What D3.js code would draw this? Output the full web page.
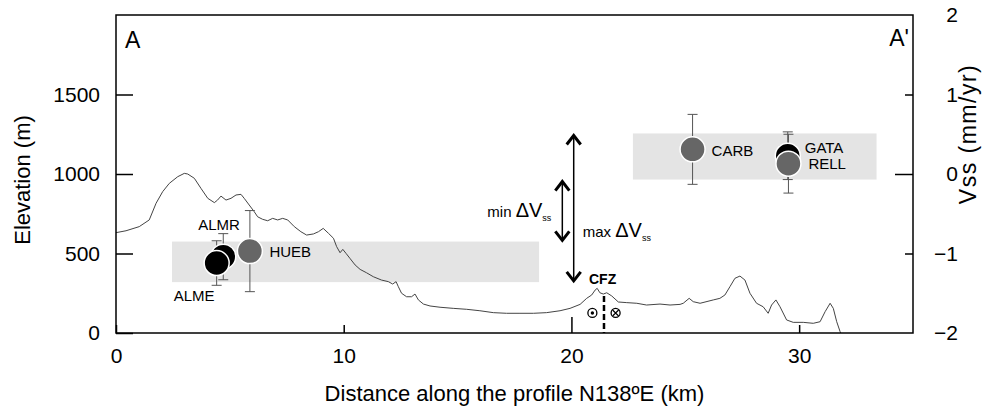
<!DOCTYPE html>
<html>
<head>
<meta charset="utf-8">
<script src="https://cdnjs.cloudflare.com/ajax/libs/d3/7.8.5/d3.min.js"></script>
<style>
  body { margin: 0; background: #fff; }
  svg { display: block; font-family: "Liberation Sans", Arial, sans-serif; }
  .axis text { font-size: 21px; fill: #000; }
  .axis line { stroke: #000; stroke-width: 1.5; }
  .axis path { display: none; }
</style>
</head>
<body>
<svg class="chart"></svg>
<script>
//======
// Data
//======

// topographic profile along A-A' (km, m)
var profileKm = [0, 0.44, 1.02, 1.46, 1.76, 2.05, 2.34, 2.71, 3.0, 3.15, 3.44, 3.73, 4.03, 4.32, 4.46, 4.61, 4.83, 5.05, 5.27, 5.49, 5.63, 5.85, 6.07, 6.22, 6.44, 6.66, 6.88, 7.1, 7.32, 7.54, 7.83, 8.12, 8.37, 8.67, 8.89, 9.1, 9.33, 9.55, 9.69, 9.84, 9.96, 10.1, 10.27, 10.5, 10.72, 11.0, 11.3, 11.66, 11.96, 12.15, 12.3, 12.4, 12.54, 12.76, 12.98, 13.13, 13.28, 13.5, 13.79, 14.23, 14.81, 15.4, 15.98, 16.57, 17.15, 17.74, 18.33, 18.91, 19.5, 19.94, 20.38, 20.67, 20.89, 21.04, 21.13, 21.25, 21.4, 21.55, 21.77, 22.06, 22.43, 22.87, 23.3, 23.89, 24.33, 24.77, 24.91, 25.17, 25.35, 25.65, 26.23, 26.52, 26.74, 26.96, 27.18, 27.4, 27.62, 27.84, 28.13, 28.42, 28.64, 28.79, 28.98, 29.16, 29.45, 29.74, 30.18, 30.62, 30.92, 31.14, 31.36, 31.5, 31.65, 31.8, 31.83];
var profileElev = [631, 643, 669, 711, 816, 889, 941, 983, 1004, 1000, 973, 910, 847, 820, 836, 861, 836, 847, 868, 872, 847, 805, 763, 731, 715, 706, 721, 711, 721, 711, 669, 637, 616, 623, 637, 658, 627, 596, 543, 505, 526, 501, 470, 428, 400, 379, 354, 333, 323, 308, 323, 291, 250, 228, 228, 245, 208, 182, 170, 162, 155, 149, 140, 128, 124, 124, 124, 128, 140, 155, 180, 218, 239, 270, 281, 253, 245, 253, 233, 195, 191, 187, 176, 182, 176, 180, 187, 218, 197, 187, 208, 218, 239, 291, 344, 358, 333, 250, 187, 165, 124, 176, 208, 165, 82, 67, 67, 61, 71, 134, 187, 155, 71, 8, 0];

// GPS stations: distance (km), strike-slip rate Vss (mm/yr) and its error
var stations = ["ALMR", "ALME", "HUEB", "CARB", "GATA", "RELL"];
var stationKm = [4.71, 4.42, 5.88, 25.32, 29.5, 29.53];
var stationVss = [-1.04, -1.12, -0.97, 0.31, 0.23, 0.13];
var stationErr = [0.29, 0.28, 0.51, 0.44, 0.30, 0.37];
var stationGroup = [1, 1, 2, 2, 1, 2];

// mean velocity bands on each side of the fault zone
var bandKmStart = [2.46, 22.7];
var bandKmEnd = [18.58, 33.4];
var bandVssLow = [-1.36, -0.07];
var bandVssHigh = [-0.85, 0.51];

// velocity difference arrows
var arrowNames = ["min", "max"];
var arrowKm = [19.6, 20.1];
var arrowTop = [-0.07, 0.51];
var arrowBottom = [-0.86, -1.37];

// Carboneras fault zone
var cfzKm = 21.43;
var cfzTopElev = 233;
var senseKm = [20.92, 21.94];
var senseElev = 126;

var xTicks = [0, 10, 20, 30],
  elevTicks = [0, 500, 1000, 1500],
  vssTicks = [-2, -1, 0, 1, 2];

//=======
// Chart
//=======

var margin = { top: 15, right: 72, bottom: 77, left: 116 },
  width = 985 - margin.left - margin.right,
  height = 410 - margin.top - margin.bottom;

var svg = d3.select(".chart")
  .attr("width", 985)
  .attr("height", 410)
  .append("g")
  .attr("transform", "translate(" + margin.left + "," + margin.top + ")");

var x = d3.scaleLinear().domain([0, 35]).range([0, width]);
var yElev = d3.scaleLinear().domain([0, 2000]).range([height, 0]);
var yVss = d3.scaleLinear().domain([-2, 2]).range([height, 0]);
var groupColor = d3.scaleOrdinal().domain([1, 2]).range(["#000", "#666"]);

// grey bands
svg.selectAll(".band")
  .data(bandKmStart)
  .enter()
  .append("rect")
  .attr("x", function(d, i) { return x(d); })
  .attr("y", function(d, i) { return yVss(bandVssHigh[i]); })
  .attr("width", function(d, i) { return x(bandKmEnd[i]) - x(d); })
  .attr("height", function(d, i) { return yVss(bandVssLow[i]) - yVss(bandVssHigh[i]); })
  .style("fill", "#e4e4e4");

// topography
var line = d3.line()
  .x(function(d, i) { return x(profileKm[i]); })
  .y(function(d) { return yElev(d); });

svg.append("path")
  .datum(profileElev)
  .attr("d", line)
  .style("fill", "none")
  .style("stroke", "#444")
  .style("stroke-width", 1);

// error bars
var bars = svg.selectAll(".err")
  .data(stations)
  .enter()
  .append("g")
  .style("stroke", "#555")
  .style("stroke-width", 1);

bars.append("line")
  .attr("x1", function(d, i) { return x(stationKm[i]); })
  .attr("x2", function(d, i) { return x(stationKm[i]); })
  .attr("y1", function(d, i) { return yVss(stationVss[i] + stationErr[i]); })
  .attr("y2", function(d, i) { return yVss(stationVss[i] - stationErr[i]); });

[1, -1].forEach(function(s) {
  bars.append("line")
    .attr("x1", function(d, i) { return x(stationKm[i]) - 5; })
    .attr("x2", function(d, i) { return x(stationKm[i]) + 5; })
    .attr("y1", function(d, i) { return yVss(stationVss[i] + s * stationErr[i]); })
    .attr("y2", function(d, i) { return yVss(stationVss[i] + s * stationErr[i]); });
});

// station dots
svg.selectAll(".station")
  .data(stations)
  .enter()
  .append("circle")
  .attr("cx", function(d, i) { return x(stationKm[i]); })
  .attr("cy", function(d, i) { return yVss(stationVss[i]); })
  .attr("r", 12.5)
  .style("fill", function(d, i) { return groupColor(stationGroup[i]); })
  .style("stroke", "#fff")
  .style("stroke-width", 1.5);

var labelOffset = {
  ALMR: [-25, -27], ALME: [-43, 38], HUEB: [19.5, 6],
  CARB: [19, 6.5], GATA: [17, -3], RELL: [20, 5.5]
};

svg.selectAll(".stationLabel")
  .data(stations)
  .enter()
  .append("text")
  .text(function(d) { return d; })
  .attr("x", function(d, i) { return x(stationKm[i]) + labelOffset[d][0]; })
  .attr("y", function(d, i) { return yVss(stationVss[i]) + labelOffset[d][1]; })
  .style("font-size", "15px");

// arrows
var arrows = svg.selectAll(".arrow")
  .data(arrowNames)
  .enter()
  .append("g")
  .style("stroke", "#000")
  .style("fill", "none");

arrows.append("line")
  .attr("x1", function(d, i) { return x(arrowKm[i]); })
  .attr("x2", function(d, i) { return x(arrowKm[i]); })
  .attr("y1", function(d, i) { return yVss(arrowTop[i]) + 2; })
  .attr("y2", function(d, i) { return yVss(arrowBottom[i]) - 2; })
  .style("stroke-width", 1.5);

arrows.append("path")
  .attr("d", function(d, i) {
    var ax = x(arrowKm[i]), t = yVss(arrowTop[i]) + 2;
    return "M" + (ax - 7) + "," + (t + 9) + "L" + ax + "," + t + "L" + (ax + 7) + "," + (t + 9);
  })
  .style("stroke-width", 3);

arrows.append("path")
  .attr("d", function(d, i) {
    var ax = x(arrowKm[i]), b = yVss(arrowBottom[i]) - 2;
    return "M" + (ax - 7) + "," + (b - 9) + "L" + ax + "," + b + "L" + (ax + 7) + "," + (b - 9);
  })
  .style("stroke-width", 3);

var arrowLabels = svg.selectAll(".arrowLabel")
  .data(arrowNames)
  .enter()
  .append("text")
  .attr("x", function(d, i) { return i == 0 ? x(arrowKm[i]) - 75 : x(arrowKm[i]) + 9; })
  .attr("y", function(d, i) { return i == 0 ? 201.7 : 221.7; });

arrowLabels.append("tspan").text(function(d) { return d + " "; }).style("font-size", "15px");
arrowLabels.append("tspan").text("ΔV").style("font-size", "20px");
arrowLabels.append("tspan").text("ss").attr("dy", 4).style("font-size", "9px");

// fault zone
svg.append("line")
  .attr("x1", x(cfzKm))
  .attr("x2", x(cfzKm))
  .attr("y1", yElev(cfzTopElev))
  .attr("y2", yElev(0))
  .style("stroke", "#000")
  .style("stroke-width", 2.5)
  .style("stroke-dasharray", "6,3");

svg.append("text")
  .text("CFZ")
  .attr("x", x(cfzKm) - 15)
  .attr("y", 269)
  .style("font-size", "14px")
  .style("font-weight", "bold");

var sense = svg.selectAll(".sense")
  .data(senseKm)
  .enter()
  .append("g")
  .attr("transform", function(d) { return "translate(" + x(d) + "," + yElev(senseElev) + ")"; });

sense.append("circle")
  .attr("r", 4.5)
  .style("fill", "#fff")
  .style("stroke", "#000")
  .style("stroke-width", 1.3);

sense.filter(function(d, i) { return i == 0; })
  .append("circle")
  .attr("r", 1.7)
  .style("fill", "#000");

sense.filter(function(d, i) { return i == 1; })
  .append("path")
  .attr("d", "M-3,-3L3,3M-3,3L3,-3")
  .style("stroke", "#000")
  .style("stroke-width", 1.2);

// axes
var xAxis = svg.append("g")
  .attr("class", "axis")
  .attr("transform", "translate(0," + height + ")")
  .call(d3.axisBottom(x).tickValues(xTicks).tickFormat(d3.format("d")).tickSizeInner(-8).tickSizeOuter(0).tickPadding(15));
xAxis.selectAll(".tick line").attr("y2", function(d) { return d == 20 ? -16 : -8; });

svg.append("g")
  .attr("class", "axis")
  .call(d3.axisLeft(yElev).tickValues(elevTicks).tickFormat(d3.format("d")).tickSizeInner(-17).tickSizeOuter(0).tickPadding(16));

var rAxis = svg.append("g")
  .attr("class", "axis")
  .attr("transform", "translate(" + width + ",0)")
  .call(d3.axisRight(yVss).tickValues(vssTicks).tickFormat(d3.format("d")).tickSizeInner(-8).tickSizeOuter(0).tickPadding(16));
rAxis.selectAll(".tick line").attr("x2", function(d) { return d == 0 ? -18 : (Math.abs(d) == 2 ? 0 : -8); });
rAxis.selectAll(".tick text").attr("x", 45).style("text-anchor", "end");

// frame
svg.append("rect")
  .attr("width", width)
  .attr("height", height)
  .style("fill", "none")
  .style("stroke", "#000")
  .style("stroke-width", 1.5);

svg.append("text").text("A").attr("x", 9).attr("y", 33).style("font-size", "23px");
svg.append("text").text("A'").attr("x", width - 4).attr("y", 31).style("font-size", "23px").style("text-anchor", "end");

// axis titles
svg.append("text")
  .text("Distance along the profile N138ºE (km)")
  .attr("x", width / 2)
  .attr("y", height + 68)
  .style("text-anchor", "middle")
  .style("font-size", "22px");

svg.append("text")
  .text("Elevation (m)")
  .attr("transform", "translate(-86," + (height / 2 + 6) + ") rotate(-90)")
  .style("text-anchor", "middle")
  .style("font-size", "22px");

svg.append("text")
  .text("Vss (mm/yr)")
  .attr("transform", "translate(" + (width + 63) + "," + (height / 2 - 40) + ") rotate(-90)")
  .style("text-anchor", "middle")
  .style("font-size", "23px")
  .style("letter-spacing", "1.5px");
</script>
</body>
</html>
